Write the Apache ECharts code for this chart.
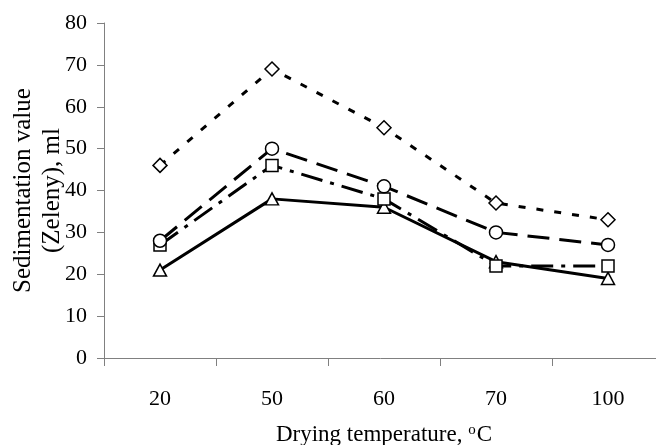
<!DOCTYPE html>
<html>
<head>
<meta charset="utf-8">
<script src="https://cdn.jsdelivr.net/npm/echarts@6/dist/echarts.min.js"></script>
<style>
html,body{margin:0;padding:0;background:#fff;}
#c{width:656px;height:445px;}
</style>
</head>
<body>
<div id="c"></div>
<script>
var categories = ['20', '50', '60', '70', '100'];
var seriesDiamond = [46, 69, 55, 37, 33];
var seriesCircle = [28, 50, 41, 30, 27];
var seriesSquare = [27, 46, 38, 22, 22];
var seriesTriangle = [21, 38, 36, 23, 19];
var yTicks = [0, 10, 20, 30, 40, 50, 60, 70, 80];

var FONT = '"Liberation Serif", "Times New Roman", serif';
var chart = echarts.init(document.getElementById('c'), null, {renderer: 'canvas'});

function mk(name, data, symbol, size, lineType, z) {
  return {
    name: name,
    type: 'line',
    data: data,
    symbol: symbol,
    symbolSize: size,
    z: z,
    lineStyle: {color: '#000', width: 3, type: lineType},
    itemStyle: {color: '#fff', borderColor: '#000', borderWidth: 1.5},
    emphasis: {disabled: true},
    animation: false
  };
}

chart.setOption({
  backgroundColor: '#fff',
  animation: false,
  grid: {left: 104, top: 23, width: 560, height: 335, containLabel: false, outerBoundsMode: 'none'},
  xAxis: {
    type: 'category',
    data: categories,
    boundaryGap: true,
    name: 'Drying temperature, {sup|o}C',
    nameLocation: 'middle',
    nameGap: 65,
    nameMoveOverlap: false,
    nameTextStyle: {
      fontFamily: FONT, fontSize: 23, color: '#000', verticalAlign: 'top',
      rich: {sup: {fontFamily: FONT, fontSize: 15, color: '#000', verticalAlign: 'top', padding: [0, 1, 8, 0]}}
    },
    axisLine: {lineStyle: {color: '#808080', width: 1}},
    axisTick: {show: true, alignWithLabel: false, length: 8, lineStyle: {color: '#808080'}},
    axisLabel: {fontFamily: FONT, fontSize: 22, color: '#000', margin: 30},
    splitLine: {show: false}
  },
  yAxis: {
    type: 'value',
    min: yTicks[0],
    max: yTicks[yTicks.length - 1],
    interval: 10,
    name: 'Sedimentation value\n(Zeleny), ml',
    nameLocation: 'middle',
    nameRotate: 90,
    nameGap: 37,
    nameMoveOverlap: false,
    nameTextStyle: {fontFamily: FONT, fontSize: 25, color: '#000', lineHeight: 29},
    axisLine: {show: true, lineStyle: {color: '#808080', width: 1}},
    axisTick: {show: true, length: 7, lineStyle: {color: '#808080'}},
    axisLabel: {fontFamily: FONT, fontSize: 22, color: '#000', margin: 17},
    splitLine: {show: false}
  },
  series: [
    mk('Triangle', seriesTriangle, 'triangle', [13, 12], 'solid', 2),
    mk('Square', seriesSquare, 'rect', 12, [22, 8, 4, 8], 3),
    mk('Circle', seriesCircle, 'circle', 13, [22, 10], 4),
    mk('Diamond', seriesDiamond, 'diamond', 14, [7, 11], 5)
  ]
});
</script>
</body>
</html>
